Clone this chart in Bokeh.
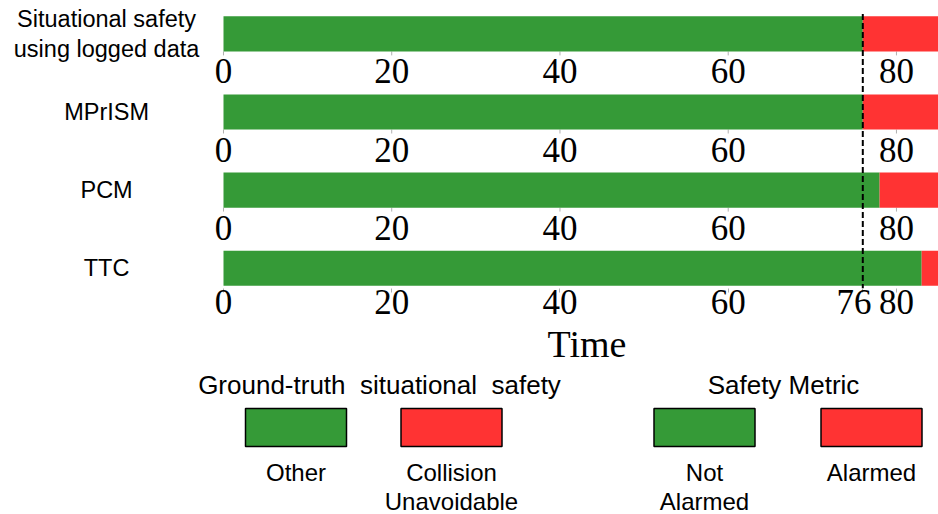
from bokeh.plotting import figure
from bokeh.layouts import column
from bokeh.models import Range1d, FixedTicker, ColumnDataSource, Title
from bokeh.core.properties import value
from bokeh.embed import file_html
from bokeh.resources import INLINE

# Rows, top to bottom
metrics = ["Situational safety\nusing logged data", "MPrISM", "PCM", "TTC"]
# Time at which each row switches from green (other / not alarmed) to red
switch_time = [76, 76, 78, 83]
time_end = [85, 85, 85, 85]
collision_time = 76
tick_values = [0, 20, 40, 60, 80]
bottom_ticks = [0, 20, 40, 60, 76, 80]

legend_titles = ["Ground-truth\u00a0 situational\u00a0 safety", "Safety Metric"]
legend_labels = ["Other", "Collision\nUnavoidable", "Not\nAlarmed", "Alarmed"]

GREEN = "#359a37"
RED = "#ff3333"
SANS = "Liberation Sans"
SERIF = "Liberation Serif"

legend_colors = [GREEN, RED, GREEN, RED]

# ---- layout constants ----
BAR_H = 0.45
Y_TOP = 0.428
Y_BOTTOM_PAD = 0.26
X_LO, X_HI = -26.51, 85  # negative side leaves room for the row names
LABEL_X = -13.9

n = len(metrics)
row_y = [-i for i in range(n)]

p = figure(width=938, height=365,
           x_range=Range1d(X_LO, X_HI),
           y_range=Range1d(-(n - 1) - Y_BOTTOM_PAD, Y_TOP),
           y_axis_location=None,
           output_backend="svg", toolbar_location=None,
           min_border_left=0, min_border_right=0, min_border_top=0,
           min_border_bottom=77)
p.outline_line_color = None
p.grid.visible = False
p.background_fill_color = "white"
p.border_fill_color = "white"

# small ticks under the upper rows (drawn first so the bars cover the upper half)
tick_src = ColumnDataSource(dict(
    x=[t for i in range(n - 1) for t in tick_values],
    y0=[row_y[i] - BAR_H / 2 for i in range(n - 1) for t in tick_values],
    y1=[row_y[i] - BAR_H / 2 - 0.05 for i in range(n - 1) for t in tick_values],
    label=[str(t) for i in range(n - 1) for t in tick_values],
))
p.segment(x0="x", x1="x", y0="y0", y1="y1", source=tick_src,
          line_color="#b0b0b0", line_width=1)

# bars
p.hbar(y=row_y, left=[0] * n, right=switch_time, height=BAR_H,
       fill_color=GREEN, line_color=None)
p.hbar(y=row_y, left=switch_time, right=time_end, height=BAR_H,
       fill_color=RED, line_color=None)

# collision instant
p.segment(x0=[collision_time], x1=[collision_time],
          y0=[row_y[0] + BAR_H / 2 + 0.03], y1=[row_y[-1] - Y_BOTTOM_PAD],
          line_color="black", line_width=2, line_dash="6 3")

# per-row time axes for the upper rows
p.text(x="x", y="y0", text="label", source=tick_src, y_offset=8,
       text_align="center", text_baseline="top",
       text_font=value(SERIF), text_font_size="35px", text_color="black")

# row names
p.text(x=[LABEL_X] * n, y=row_y, text=metrics,
       text_align="center", text_baseline="middle",
       text_font=value(SANS), text_font_size="23.5px", text_color="black",
       text_line_height=1.15)

ax = p.xaxis[0]
ax.ticker = FixedTicker(ticks=bottom_ticks)
ax.major_label_overrides = {76: "76\u00a0\u00a0"}
ax.axis_line_color = None
ax.major_tick_line_color = "#b0b0b0"
ax.major_tick_out = 4
ax.major_tick_in = 0
ax.minor_tick_line_color = None
ax.major_label_text_font = SERIF
ax.major_label_text_font_size = "35px"
ax.major_label_text_color = "black"
ax.major_label_standoff = -10

# axis title, placed under the time span rather than the whole frame
time_title = Title(text="Time", align="left", offset=547,
                   text_font=SERIF, text_font_size="38px",
                   text_font_style="normal", text_color="black")
if "standoff" in Title.properties():
    time_title.standoff = -8
p.add_layout(time_title, "below")

# ---- legend ----
lg = figure(width=938, height=149,
            x_range=Range1d(0, 938), y_range=Range1d(149, 0),
            x_axis_location=None, y_axis_location=None,
            output_backend="svg", toolbar_location=None,
            min_border=0)
lg.outline_line_color = None
lg.grid.visible = False

title_x = [379, 783]
item_x = [295.5, 451, 704, 871]

lg.text(x=title_x, y=[4, 4], text=legend_titles,
        text_align="center", text_baseline="top",
        text_font=value(SANS), text_font_size="26px", text_color="black")
lg.rect(x=item_x, y=[62] * 4, width=101, height=38,
        fill_color=legend_colors, line_color="black", line_width=1.5)
lg.text(x=item_x, y=[93] * 4, text=legend_labels,
        text_align="center", text_baseline="top",
        text_font=value(SANS), text_font_size="24px", text_color="black",
        text_line_height=1.1)

layout = column(p, lg, spacing=0)
open("out.html", "w").write(file_html(layout, INLINE))
